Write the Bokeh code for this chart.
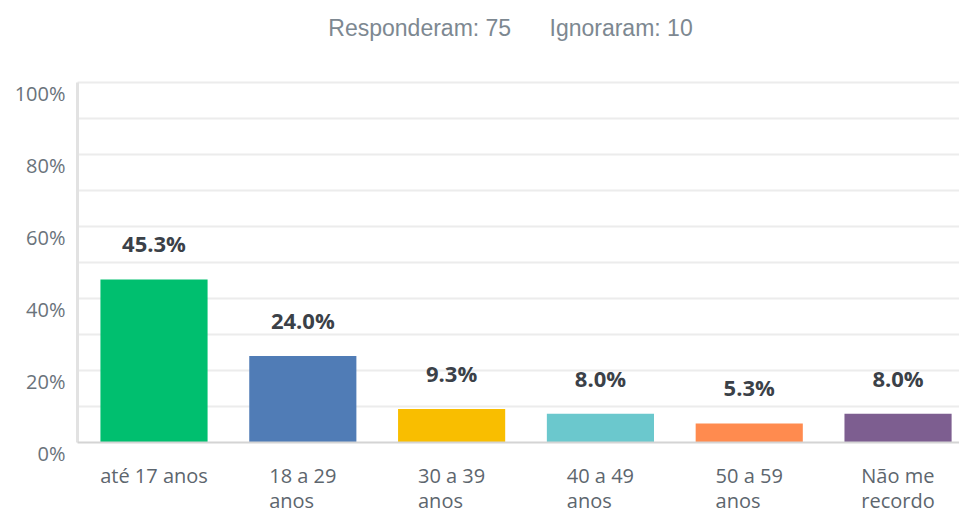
from bokeh.plotting import figure
from bokeh.models import ColumnDataSource, Range1d, Label
from bokeh.core.properties import value
from bokeh.embed import file_html
from bokeh.resources import INLINE

# ---- data ----
categories = ["até 17 anos", "18 a 29\nanos", "30 a 39\nanos", "40 a 49\nanos", "50 a 59\nanos", "Não me\nrecordo"]
percent = [45.3, 24.0, 9.3, 8.0, 5.3, 8.0]
colors = ["#00BF6F", "#507CB6", "#F9BE00", "#6BC8CD", "#FF8B4F", "#7D5E90"]
y_ticks = [0, 20, 40, 60, 80, 100]
y_tick_labels = ["0%", "20%", "40%", "60%", "80%", "100%"]
grid_ticks = [10, 20, 30, 40, 50, 60, 70, 80, 90, 100]
answered = 75
skipped = 10

W, H = 959, 515
# plotting area (the frame covers the whole canvas so that texts are not clipped)
X_START, X_END = -1.0316, 5.413
Y_START, Y_END = -20.28, 122.78
AXIS_X = -0.514          # where the value axis stands
Y_MIN, Y_MAX = 0, 100

idx = list(range(len(categories)))
bars = ColumnDataSource(dict(
    x=idx, top=percent, color=colors,
    label=[f"{v:.1f}%" for v in percent],
))

p = figure(width=W, height=H,
           x_range=Range1d(X_START, X_END), y_range=Range1d(Y_START, Y_END),
           output_backend="svg", toolbar_location=None,
           x_axis_location=None, y_axis_location=None,
           min_border=0)
p.outline_line_color = None
p.background_fill_color = "white"
p.border_fill_color = "white"
p.grid.visible = False

# horizontal grid lines
n = len(grid_ticks)
p.segment(x0=[AXIS_X] * n, x1=[X_END] * n, y0=grid_ticks, y1=grid_ticks,
          line_color="#ececec", line_width=2)

# bars
p.vbar(x="x", top="top", bottom=0, width=0.72, fill_color="color",
       line_color=None, source=bars)

# axis lines
p.segment(x0=[AXIS_X], x1=[AXIS_X], y0=[Y_MIN], y1=[Y_MAX],
          line_color="#e2e2e2", line_width=3)
p.segment(x0=[AXIS_X], x1=[X_END], y0=[Y_MIN], y1=[Y_MIN],
          line_color="#d4d4d4", line_width=2)

# value labels
p.text(x="x", y="top", text="label", source=bars,
       text_align="center", text_baseline="alphabetic", y_offset=-36,
       text_font=value("Open Sans"), text_font_style="bold",
       text_font_size="22px", text_color="#3b4148")

# y tick labels (sit just below their grid line)
ylab = ColumnDataSource(dict(x=[AXIS_X] * len(y_ticks), y=y_ticks, text=y_tick_labels))
p.text(x="x", y="y", text="text", source=ylab,
       text_align="right", text_baseline="middle", x_offset=-12, y_offset=11,
       text_font=value("Open Sans"), text_font_size="20px", text_color="#6a737b")

# category labels: block centred under the bar, lines left aligned
for i, c in zip(idx, categories):
    p.add_layout(Label(x=i, y=Y_MIN, text=c, y_offset=-20, anchor="top_center",
                       text_align="left", text_baseline="top",
                       text_font="Open Sans", text_font_size="20px",
                       text_line_height=0.92, text_color="#5d666e"))

# header
p.add_layout(Label(x=510, y=H - 27, x_units="screen", y_units="screen",
                   text=f"Responderam: {answered}" + "\u00a0" * 6 + f"Ignoraram: {skipped}",
                   text_align="center", text_baseline="alphabetic",
                   text_font="Liberation Sans", text_font_size="23px",
                   text_color="#7d8891"))

open("out.html", "w").write(file_html(p, INLINE))
